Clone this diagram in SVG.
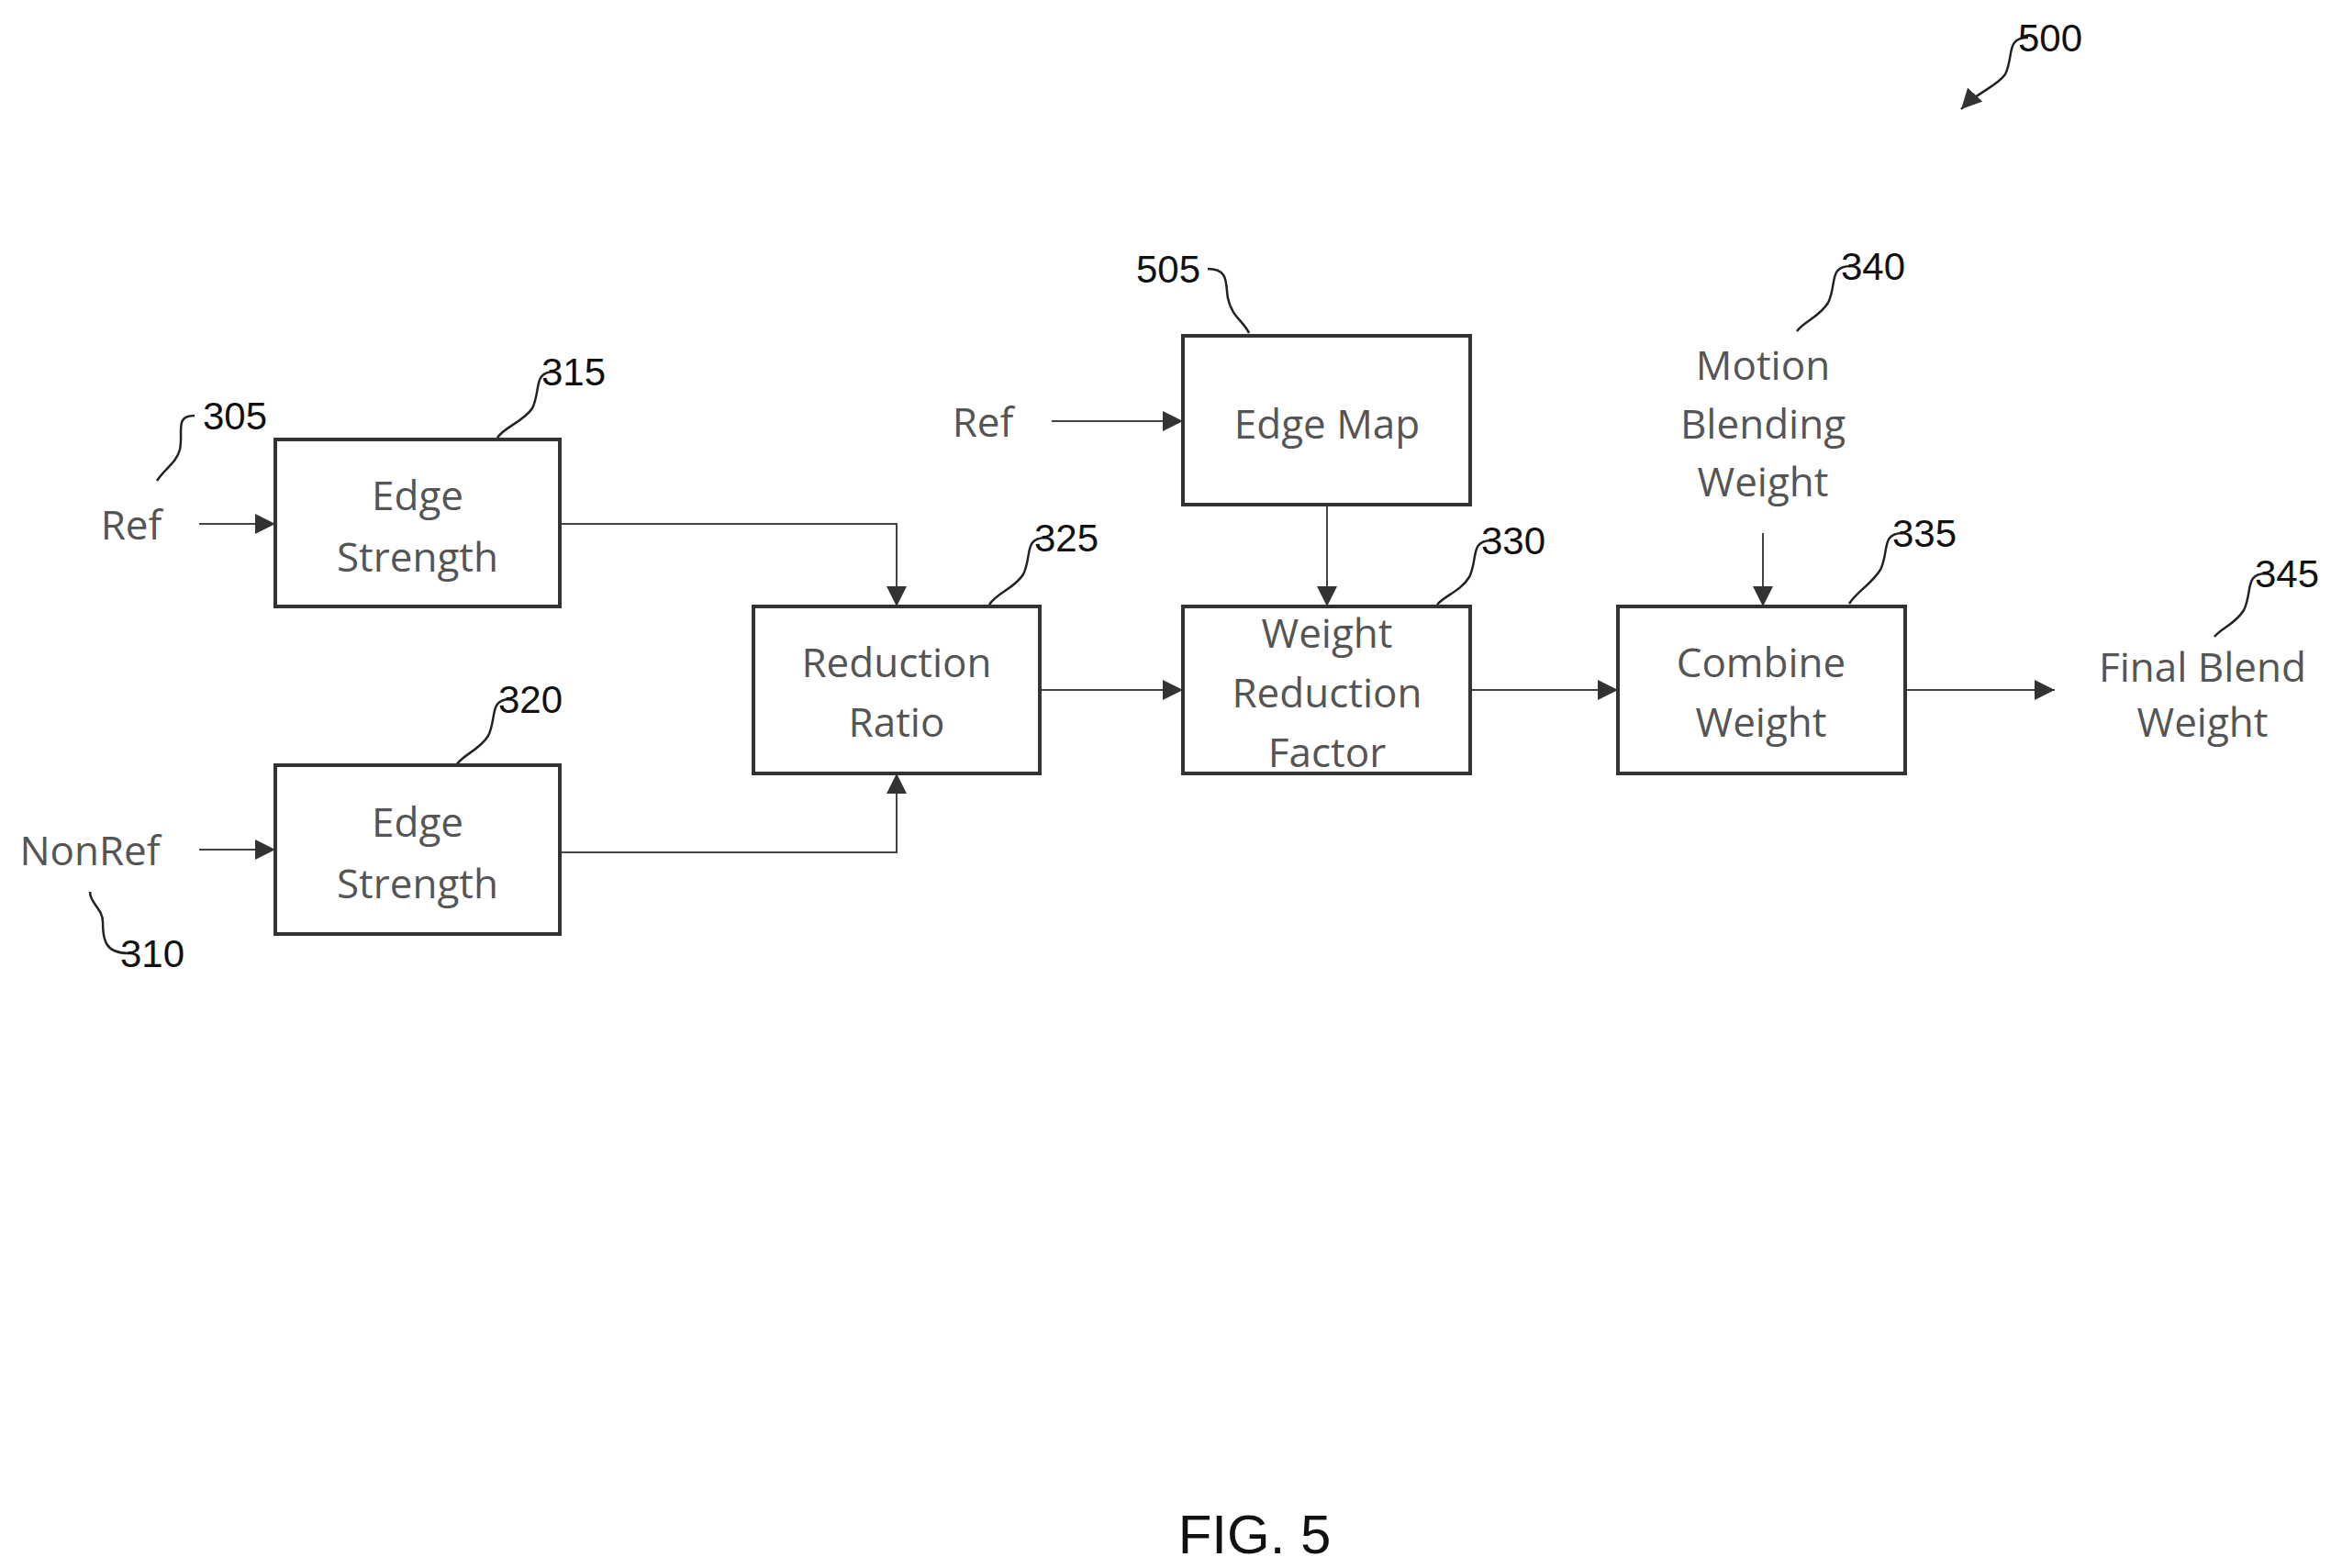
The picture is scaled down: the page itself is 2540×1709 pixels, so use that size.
<svg xmlns="http://www.w3.org/2000/svg" width="2540" height="1709" viewBox="0 0 2540 1709">
<defs>
<marker id="ah" viewBox="0 0 10 10" refX="10" refY="5" markerWidth="10" markerHeight="10" markerUnits="userSpaceOnUse" orient="auto"><path d="M0,0 L10,5 L0,10 z" fill="#333"/></marker>
<marker id="ah2" viewBox="0 0 10 10" refX="10" refY="5" markerWidth="22" markerHeight="22" markerUnits="userSpaceOnUse" orient="auto"><path d="M0,0 L10,5 L0,10 z" fill="#333"/></marker>
<style>
.box{fill:#fff;stroke:#333;stroke-width:4}
.t{font-family:"Open Sans","DejaVu Sans",sans-serif;font-size:44px;fill:#555;text-anchor:middle;dominant-baseline:central}
.n{font-family:"Liberation Sans",Arial,sans-serif;font-size:42px;fill:#111;text-anchor:middle;dominant-baseline:central}
.c{fill:none;stroke:#444;stroke-width:2;marker-end:url(#ah2)}
.l{fill:none;stroke:#222;stroke-width:2.5}
</style>
</defs>
<rect width="2540" height="1709" fill="#fff"/>
<g id="connectors">
<path class="c" d="M217,571 H300"/>
<path class="c" d="M217,926 H300"/>
<path class="c" d="M610,571 H977 V661"/>
<path class="c" d="M610,929 H977 V843"/>
<path class="c" d="M1133,752 H1289"/>
<path class="c" d="M1146,459 H1289"/>
<path class="c" d="M1446,550 V661"/>
<path class="c" d="M1602,752 H1763"/>
<path class="c" d="M1921,581 V661"/>
<path class="c" d="M2076,752 H2239"/>
</g>
<g id="leaders">
<path class="l" d="M212,453 C190,453 200,470 196,490 C192,505 180,510 171,524"/>
<path class="l" d="M605,405 C580,405 590,425 580,445 C570,460 550,465 542,477"/>
<path class="l" d="M557,762 C532,762 542,782 532,802 C522,818 505,822 497,834"/>
<path class="l" d="M98,972 C98,985 112,990 112,1005 C112,1025 115,1039 140,1039"/>
<path class="l" d="M1140,586 C1115,586 1125,606 1115,626 C1105,642 1086,646 1078,659"/>
<path class="l" d="M1316,293 C1340,293 1335,310 1338,325 C1342,345 1355,350 1361,363"/>
<path class="l" d="M1626,589 C1601,589 1611,609 1601,629 C1591,645 1574,649 1566,659"/>
<path class="l" d="M2017,290 C1992,290 2002,310 1992,330 C1982,346 1966,350 1958,361"/>
<path class="l" d="M2074,581 C2049,581 2059,601 2049,621 C2039,637 2023,645 2015,658"/>
<path class="l" d="M2470,625 C2445,625 2455,645 2445,665 C2435,681 2421,684 2413,694"/>
<path class="l" d="M2210,41 C2185,41 2195,61 2185,81 C2175,95 2155,100 2137,119" marker-end="url(#ah2)"/>
</g>
<g id="in_ref"><text class="t" x="143" y="571">Ref</text></g>
<g id="in_nonref"><text class="t" x="98" y="926">NonRef</text></g>
<g id="in_ref2"><text class="t" x="1071" y="459">Ref</text></g>
<g id="es1"><rect class="box" x="300" y="479" width="310" height="182"/><text class="t" x="455" y="539">Edge</text><text class="t" x="455" y="606">Strength</text></g>
<g id="es2"><rect class="box" x="300" y="834" width="310" height="184"/><text class="t" x="455" y="895">Edge</text><text class="t" x="455" y="962">Strength</text></g>
<g id="rr"><rect class="box" x="821" y="661" width="312" height="182"/><text class="t" x="977" y="721">Reduction</text><text class="t" x="977" y="786">Ratio</text></g>
<g id="em"><rect class="box" x="1289" y="366" width="313" height="184"/><text class="t" x="1446" y="461">Edge Map</text></g>
<g id="wrf"><rect class="box" x="1289" y="661" width="313" height="182"/><text class="t" x="1446" y="689">Weight</text><text class="t" x="1446" y="754">Reduction</text><text class="t" x="1446" y="819">Factor</text></g>
<g id="cw"><rect class="box" x="1763" y="661" width="313" height="182"/><text class="t" x="1919" y="721">Combine</text><text class="t" x="1919" y="786">Weight</text></g>
<g id="mbw"><text class="t" x="1921" y="397">Motion</text><text class="t" x="1921" y="461">Blending</text><text class="t" x="1921" y="524">Weight</text></g>
<g id="fbw"><text class="t" x="2400" y="726">Final Blend</text><text class="t" x="2400" y="786">Weight</text></g>
<g id="nums">
<text class="n" x="256" y="453">305</text>
<text class="n" x="625" y="405">315</text>
<text class="n" x="578" y="762">320</text>
<text class="n" x="166" y="1039">310</text>
<text class="n" x="1162" y="586">325</text>
<text class="n" x="1273" y="293">505</text>
<text class="n" x="1649" y="589">330</text>
<text class="n" x="2041" y="290">340</text>
<text class="n" x="2097" y="581">335</text>
<text class="n" x="2492" y="625">345</text>
<text class="n" x="2234" y="41">500</text>
<text class="n" x="1367" y="1672" style="font-size:60px">FIG. 5</text>
</g>
</svg>
